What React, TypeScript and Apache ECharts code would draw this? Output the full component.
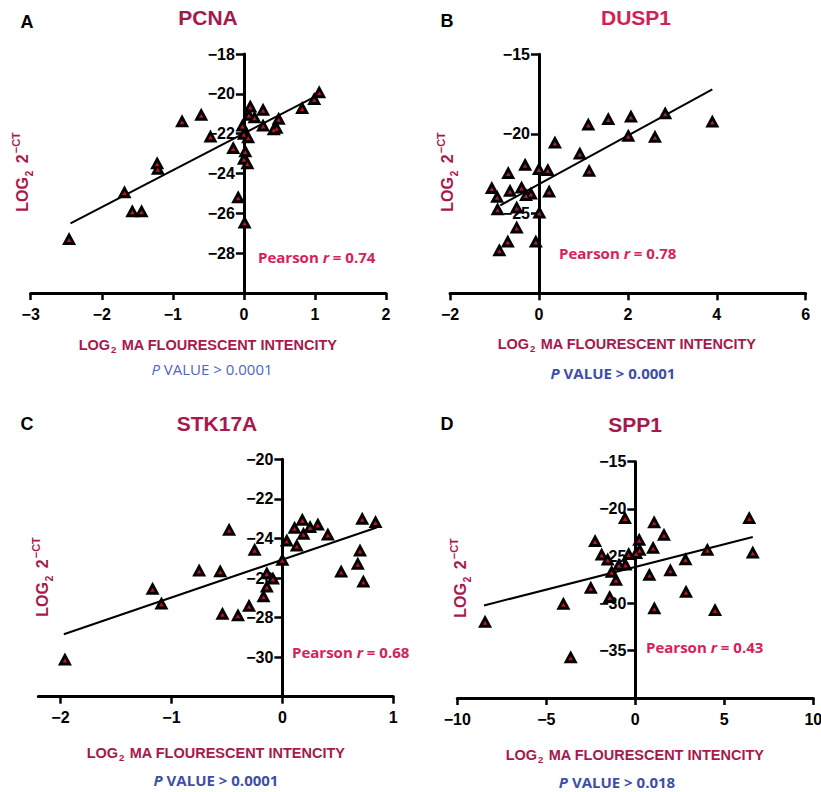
import React, { useEffect, useRef } from "react";
import * as echarts from "echarts";

// ---------- data ----------
const panelLetters = ["A", "B", "C", "D"];
const geneNames = ["PCNA", "DUSP1", "STK17A", "SPP1"];
const pearsonR = ["0.74", "0.78", "0.68", "0.43"];
const pValues = ["0.0001", "0.0001", "0.0001", "0.018"];

const pcnaX = [-2.46, -1.68, -1.57, -1.44, -1.22, -1.21, -0.87, -0.6, -0.47, -0.15, -0.08, 0.01, -0.02, 0.0, 0.06, 0.02, 0.0, 0.05, 0.09, 0.07, 0.15, 0.27, 0.27, 0.49, 0.46, 0.42, 0.82, 0.99, 1.06];
const pcnaY = [-27.26, -24.92, -25.87, -25.87, -23.46, -23.74, -21.35, -21.02, -22.12, -22.69, -25.17, -26.43, -21.57, -21.98, -22.15, -22.86, -23.24, -23.46, -20.61, -21.02, -21.15, -20.78, -21.57, -21.23, -21.68, -21.75, -20.68, -20.23, -19.9];
const pcnaFitX = [-2.44, 1.05];
const pcnaFitY = [-26.5, -20.05];

const dusp1X = [-1.06, -0.94, -0.93, -0.89, -0.7, -0.69, -0.65, -0.5, -0.5, -0.39, -0.31, -0.29, -0.18, -0.07, 0.0, 0.01, 0.2, 0.23, 0.36, 0.92, 1.11, 1.13, 1.56, 2.01, 2.07, 2.61, 2.84, 3.9];
const dusp1Y = [-23.36, -23.91, -24.69, -27.26, -26.72, -22.42, -23.53, -24.58, -25.84, -23.33, -21.9, -23.8, -23.7, -26.72, -22.17, -24.9, -22.23, -23.58, -20.5, -21.19, -19.38, -22.28, -19.03, -20.08, -18.88, -20.14, -18.67, -19.18];
const dusp1FitX = [-0.87, 3.9];
const dusp1FitY = [-24.48, -17.2];

const stk17aX = [-1.96, -1.17, -1.09, -0.75, -0.56, -0.54, -0.48, -0.4, -0.3, -0.25, -0.14, -0.085, -0.14, -0.17, 0.0, 0.04, 0.11, 0.13, 0.18, 0.19, 0.25, 0.32, 0.41, 0.53, 0.68, 0.7, 0.72, 0.73, 0.84];
const stk17aY = [-30.1, -26.52, -27.27, -25.59, -25.63, -27.78, -23.54, -27.86, -27.38, -24.55, -25.73, -26.0, -26.4, -26.9, -25.05, -24.08, -23.43, -24.33, -23.03, -23.74, -23.4, -23.27, -23.78, -25.64, -25.25, -24.58, -22.98, -26.15, -23.15];
const stk17aFitX = [-1.97, 0.85];
const stk17aFitY = [-28.84, -23.45];

const spp1X = [-8.44, -4.04, -3.63, -2.5, -2.26, -1.89, -1.55, -1.44, -1.33, -1.08, -0.92, -0.55, -0.58, -0.37, 0.05, 0.22, 0.24, 0.79, 1.0, 1.06, 1.07, 1.61, 1.97, 2.82, 2.85, 4.05, 4.48, 6.4, 6.6];
const spp1Y = [-31.88, -29.97, -35.63, -28.27, -23.35, -24.77, -25.3, -29.26, -26.6, -27.43, -25.86, -25.83, -20.9, -24.7, -24.6, -23.2, -24.25, -26.9, -24.05, -21.35, -30.46, -22.68, -26.42, -25.26, -28.7, -24.25, -30.64, -20.9, -24.55];
const spp1FitX = [-8.5, 6.6];
const spp1FitY = [-30.21, -22.96];

const xMins = [-3, -2, -2.2, -10];
const xMaxs = [2, 6, 1, 10];
const xTickValues = [
  [-3, -2, -1, 0, 1, 2],
  [-2, 0, 2, 4, 6],
  [-2, -1, 0, 1],
  [-10, -5, 0, 5, 10],
];
const yMins = [-30, -30, -32, -40];
const yMaxs = [-18, -15, -20, -15];
const yIntervals = [2, 5, 2, 5];

// ---------- styles ----------
const FONT = '"Liberation Sans", Arial, Helvetica, sans-serif';
const FONT2 = '"Open Sans", "Liberation Sans", Arial, sans-serif';
const titleColors = ["#a3184e", "#d41f55", "#a8184d", "#a8184d"];
const labelColor = "#a8184d";
const pearsonColor = "#d81e5b";
const innerColors = ["#c8101e", "#a81858", "#c8101e", "#c8101e"];

const grids = [
  { left: 30.7, top: 54, width: 355.3, height: 239 },
  { left: 450, top: 54.3, width: 355.7, height: 239 },
  { left: 38.3, top: 459.3, width: 355, height: 237.4 },
  { left: 457.3, top: 461.7, width: 356, height: 236.3 },
];

const layout = [
  { letter: [27, 22], title: [208, 17], yName: [22, 172], xName: [208, 345], p: [212, 369], pBold: false, pearson: [258, 257] },
  { letter: [447, 21], title: [636, 17], yName: [447, 172], xName: [627, 344], p: [613, 373], pBold: true, pearson: [559, 253] },
  { letter: [27, 424], title: [217, 423], yName: [42, 577], xName: [216, 753], p: [216, 780], pBold: true, pearson: [292, 652] },
  { letter: [447, 424], title: [635, 424], yName: [460, 578], xName: [635, 755], p: [617, 782], pBold: true, pearson: [646, 647] },
];

const minus = (v: number) => String(v).replace("-", "\u2212");

function pairs(xs: number[], ys: number[]) {
  return xs.map((x, i) => [x, ys[i]]);
}

export default function App() {
  const ref = useRef<HTMLDivElement>(null);

  useEffect(() => {
    if (!ref.current) return;
    const chart = echarts.init(ref.current, undefined, { renderer: "svg" });

    const allX = [pcnaX, dusp1X, stk17aX, spp1X];
    const allY = [pcnaY, dusp1Y, stk17aY, spp1Y];
    const fitX = [pcnaFitX, dusp1FitX, stk17aFitX, spp1FitX];
    const fitY = [pcnaFitY, dusp1FitY, stk17aFitY, spp1FitY];

    const xAxis: any[] = [];
    const yAxis: any[] = [];
    const series: any[] = [];
    const graphic: any[] = [];

    for (let i = 0; i < 4; i++) {
      // place the y axis where x = 0 (shift inward from the grid's left edge)
      const zeroShift = ((0 - xMins[i]) / (xMaxs[i] - xMins[i])) * grids[i].width;

      xAxis.push({
        type: "value",
        gridIndex: i,
        min: xMins[i],
        max: xMaxs[i],
        splitLine: { show: false },
        axisLine: { show: true, onZero: false, lineStyle: { color: "#000", width: 3 } },
        axisTick: { show: true, length: 7, lineStyle: { color: "#000", width: 2.5 }, customValues: xTickValues[i] },
        axisLabel: {
          customValues: xTickValues[i],
          formatter: (v: number) => minus(v),
          color: "#000",
          fontFamily: FONT,
          fontWeight: "bold",
          fontSize: 16,
          margin: 13,
        },
      });
      yAxis.push({
        type: "value",
        gridIndex: i,
        position: "left",
        offset: -zeroShift,
        min: yMins[i],
        max: yMaxs[i],
        interval: yIntervals[i],
        splitLine: { show: false },
        axisLine: { show: true, onZero: false, lineStyle: { color: "#000", width: 3 } },
        axisTick: { show: true, length: 8, lineStyle: { color: "#000", width: 2.5 } },
        axisLabel: {
          showMinLabel: false,
          formatter: (v: number) => minus(v),
          color: "#000",
          fontFamily: FONT,
          fontWeight: "bold",
          fontSize: 16,
          margin: 9,
        },
      });

      series.push({
        type: "line",
        xAxisIndex: i,
        yAxisIndex: i,
        data: pairs(fitX[i], fitY[i]),
        showSymbol: false,
        symbol: "none",
        lineStyle: { color: "#000", width: 2 },
        z: 2,
        silent: true,
      });
      series.push({
        type: "scatter",
        xAxisIndex: i,
        yAxisIndex: i,
        data: pairs(allX[i], allY[i]),
        symbol: "triangle",
        symbolSize: [14, 13],
        itemStyle: { color: "#000", opacity: 1 },
        z: 3,
        silent: true,
      });
      series.push({
        type: "scatter",
        xAxisIndex: i,
        yAxisIndex: i,
        data: pairs(allX[i], allY[i]),
        symbol: "triangle",
        symbolSize: [4.5, 4],
        symbolOffset: [0, 1.5],
        itemStyle: { color: innerColors[i], opacity: 1 },
        z: 4,
        silent: true,
      });

      const L = layout[i];
      graphic.push({
        type: "text",
        x: L.letter[0],
        y: L.letter[1],
        style: {
          text: panelLetters[i],
          fill: "#000",
          font: `bold 18px ${FONT}`,
          align: "center",
          verticalAlign: "middle",
        },
      });
      graphic.push({
        type: "text",
        x: L.title[0],
        y: L.title[1],
        style: {
          text: geneNames[i],
          fill: titleColors[i],
          font: `bold 21px ${FONT}`,
          align: "center",
          verticalAlign: "middle",
        },
      });
      graphic.push({
        type: "text",
        x: L.yName[0],
        y: L.yName[1],
        rotation: Math.PI / 2,
        style: {
          text: "{m|LOG}{s|2}{m| 2}{u|\u2212CT}",
          align: "center",
          verticalAlign: "middle",
          fill: labelColor,
          rich: {
            m: { fontFamily: FONT, fontWeight: "bold", fontSize: 16, lineHeight: 24, fill: labelColor, verticalAlign: "middle" },
            s: { fontFamily: FONT, fontWeight: "bold", fontSize: 10, lineHeight: 24, fill: labelColor, verticalAlign: "bottom", padding: [0, 3, 0, 1] },
            u: { fontFamily: FONT, fontWeight: "bold", fontSize: 11, lineHeight: 24, fill: labelColor, verticalAlign: "top", padding: [0, 0, 0, 1] },
          },
        },
      });
      graphic.push({
        type: "text",
        x: L.xName[0],
        y: L.xName[1],
        style: {
          text: "{m|LOG}{s|2}{m| MA FLOURESCENT INTENCITY}",
          align: "center",
          verticalAlign: "middle",
          fill: labelColor,
          rich: {
            m: { fontFamily: FONT, fontWeight: "bold", fontSize: 14.5, lineHeight: 18, fill: labelColor, verticalAlign: "middle" },
            s: { fontFamily: FONT, fontWeight: "bold", fontSize: 9.5, lineHeight: 18, fill: labelColor, verticalAlign: "bottom", padding: [0, 1, 0, 1] },
          },
        },
      });
      const pColor = L.pBold ? "#3e4ea8" : "#5064c4";
      const pWeight = L.pBold ? "bold" : "normal";
      graphic.push({
        type: "text",
        x: L.p[0],
        y: L.p[1],
        style: {
          text: `{i|P}{n| VALUE > ${pValues[i]}}`,
          align: "center",
          verticalAlign: "middle",
          fill: pColor,
          rich: {
            i: { fontFamily: FONT2, fontWeight: pWeight, fontStyle: "italic", fontSize: 15, fill: pColor },
            n: { fontFamily: FONT2, fontWeight: pWeight, fontSize: 15, fill: pColor },
          },
        },
      });
      graphic.push({
        type: "text",
        x: L.pearson[0],
        y: L.pearson[1],
        style: {
          text: `{n|Pearson }{i|r}{n| = ${pearsonR[i]}}`,
          align: "left",
          verticalAlign: "middle",
          fill: pearsonColor,
          rich: {
            i: { fontFamily: FONT2, fontWeight: "bold", fontStyle: "italic", fontSize: 15, fill: pearsonColor },
            n: { fontFamily: FONT2, fontWeight: "bold", fontSize: 15, fill: pearsonColor },
          },
        },
      });
    }

    chart.setOption({
      animation: false,
      backgroundColor: "#fff",
      grid: grids.map((g) => ({ ...g, containLabel: false, outerBoundsMode: "none" })),
      xAxis,
      yAxis,
      series,
      graphic,
    });

    return () => chart.dispose();
  }, []);

  return (
    <div
      ref={ref}
      style={{ position: "absolute", left: 0, top: 0, width: 821, height: 792, background: "#fff" }}
    />
  );
}
